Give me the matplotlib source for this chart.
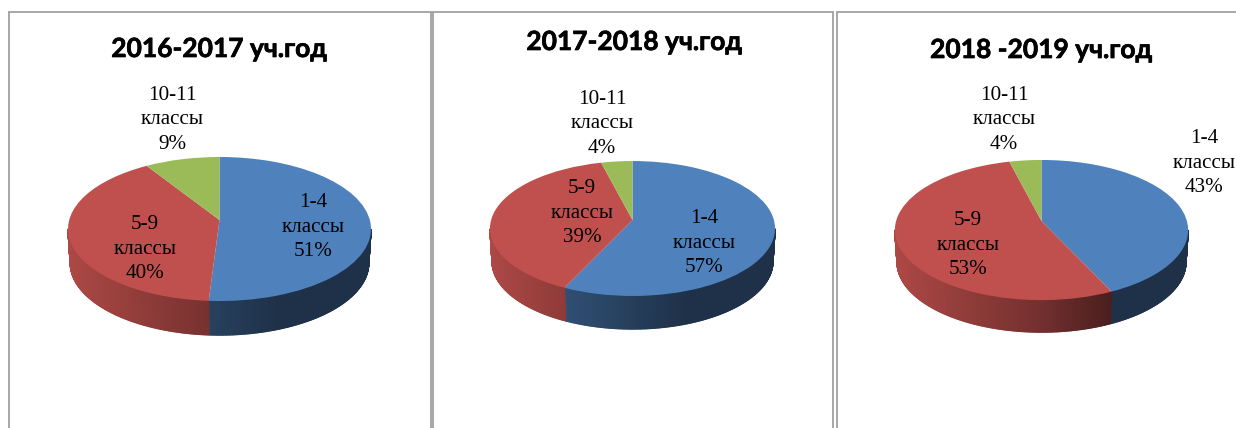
import numpy as np
import matplotlib
matplotlib.use('Agg')
import matplotlib.pyplot as plt
import matplotlib.patheffects as pe
from matplotlib.collections import PolyCollection
from matplotlib.patches import Rectangle
from matplotlib.transforms import Transform

W, H = 1236, 428

# data
titles = ['2016-2017 уч.год', '2017-2018 уч.год', '2018 -2019 уч.год']
categories = ['1-4\nклассы', '5-9\nклассы', '10-11\nклассы']
values_2016 = [51, 40, 9]
values_2017 = [57, 39, 4]
values_2018 = [43, 53, 4]
all_values = [values_2016, values_2017, values_2018]

colors = ['#4f81bd', '#c0504d', '#9bbb59']

# layout in pixels of the picture
frames = [(8.5, 422), (432.5, 400), (836.5, 420)]
title_pos = [(219, 49), (634, 42), (1041, 50)]
centers = [(219.5, 220), (632.5, 220), (1041.5, 221)]
radius_x = [150.3, 141.4, 145.4]
radius_y = [70.9, 66.4, 68.9]
tilt = [0.125, 0.126, 0.129]
depth = [34, 33, 32]
label_pos = [
    [(313, 227), (145, 249), (172, 120)],
    [(704, 243), (582, 213), (602, 124)],
    [(1204, 163), (968, 245), (1004, 120)],
]


class Persp(Transform):
    # flat circle seen from above, the near side comes out bigger
    input_dims = 2
    output_dims = 2
    is_affine = False

    def __init__(self, a, b, k):
        super().__init__()
        self.a, self.b, self.k = a, b, k

    def transform_non_affine(self, xy):
        xy = np.asarray(xy, dtype=float)
        w = 1 + self.k * xy[:, 1]
        return np.column_stack((self.a * xy[:, 0] / w, self.b * xy[:, 1] / w))


def side_shade(color_idx, u):
    if color_idx == 0:
        return np.interp(u, [-0.5, 0.4], [0.62, 0.38])
    return np.interp(u, [-1, 0, 0.5, 1], [0.9, 0.6, 0.38, 0.36])


def draw_side(ax, wedge, idx, persp, d):
    t1, t2 = wedge.theta1, wedge.theta2
    n = max(int((t2 - t1) / 0.5), 2)
    t = np.radians(np.linspace(t1, t2, n + 1))
    t = t[np.sin(t) < -persp.k]
    if len(t) < 2:
        return
    top = persp.transform_non_affine(np.column_stack((np.cos(t), np.sin(t))))
    low = np.column_stack((top[:, 0] * 0.985, top[:, 1] - d))
    polys, cols = [], []
    base = np.array(matplotlib.colors.to_rgb(colors[idx]))
    for i in range(len(t) - 1):
        polys.append([top[i], top[i + 1], low[i + 1], low[i]])
        u = (top[i, 0] + top[i + 1, 0]) / 2 / persp.a
        cols.append(base * side_shade(idx, u))
    pc = PolyCollection(polys, facecolors=cols, edgecolors=cols, linewidths=1.0, zorder=0.5)
    ax.add_collection(pc)


fig = plt.figure(figsize=(W / 100, H / 100), dpi=100, facecolor='white')

for x0, w in frames:
    fig.add_artist(Rectangle((x0 / W, 1 - 520 / H), w / W, (520 - 11.5) / H, transform=fig.transFigure,
                             fill=False, edgecolor='#a0a0a0', linewidth=1.3))

for p in range(3):
    cx, cy = centers[p]
    ax = fig.add_axes([(cx - 170) / W, 1 - (cy + 130) / H, 340 / W, 220 / H])
    persp = Persp(radius_x[p], radius_y[p], tilt[p])
    wedges, _ = ax.pie(all_values[p], colors=colors, startangle=90, counterclock=False,
                       wedgeprops={'linewidth': 0})
    for i, wd in enumerate(wedges):
        wd.set_transform(persp + ax.transData)
        wd.set_clip_on(False)
        draw_side(ax, wd, i, persp, depth[p])
    ax.set_aspect('auto')
    ax.set_xlim(-170, 170)
    ax.set_ylim(-130, 90)
    ax.axis('off')

    fig.text(title_pos[p][0] / W, 1 - title_pos[p][1] / H, titles[p], ha='center', va='center',
             fontsize=19, fontweight='bold', family=['Lato', 'Open Sans'], color='black',
             path_effects=[pe.withStroke(linewidth=0.5, foreground='black')])
    for i, (lx, ly) in enumerate(label_pos[p]):
        fig.text(lx / W, 1 - ly / H, categories[i] + '\n' + str(all_values[p][i]) + '%', ha='center', va='center',
                 fontsize=15.2, family='Liberation Serif', linespacing=1.38, color='black')

fig.savefig('out.png', dpi=100)
